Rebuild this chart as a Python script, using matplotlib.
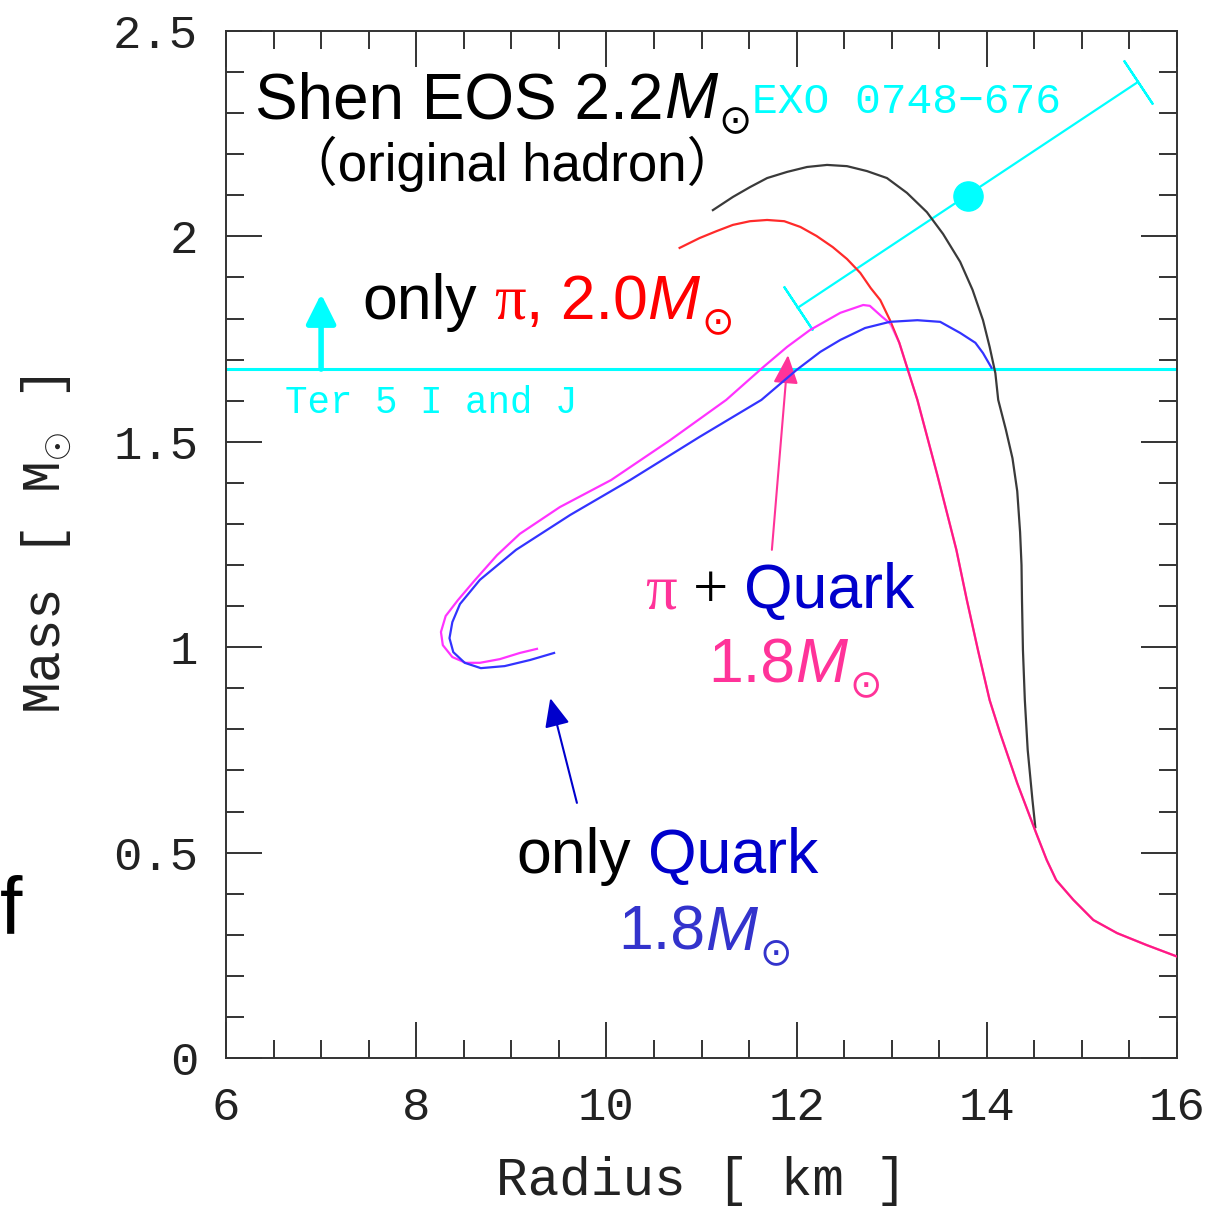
import matplotlib
matplotlib.use("Agg")
import matplotlib.pyplot as plt
import matplotlib.transforms as mtransforms
from matplotlib.ticker import MultipleLocator, FuncFormatter
import numpy as np

plt.rcParams['mathtext.fontset'] = 'custom'
plt.rcParams['mathtext.rm'] = 'Liberation Sans'
plt.rcParams['mathtext.it'] = 'Liberation Sans:italic'
plt.rcParams['mathtext.bf'] = 'Liberation Sans:bold'

# ---------------- data (Radius [km], Mass [Msun]) ----------------
shen_R = [11.12, 11.33, 11.51, 11.69, 11.90, 12.11, 12.32, 12.53, 12.74, 12.95, 13.16, 13.37,
          13.54, 13.72, 13.85, 13.96, 14.03, 14.09, 14.12, 14.20, 14.27, 14.32, 14.35, 14.365,
          14.37, 14.38, 14.40, 14.43, 14.48, 14.51]
shen_M = [2.064, 2.096, 2.120, 2.142, 2.157, 2.169, 2.174, 2.171, 2.159, 2.142, 2.106, 2.059,
          2.006, 1.938, 1.870, 1.796, 1.731, 1.667, 1.602, 1.530, 1.460, 1.380, 1.280, 1.200,
          1.115, 0.993, 0.871, 0.750, 0.628, 0.562]

pion_R = [10.77, 10.98, 11.16, 11.33, 11.51, 11.69, 11.87, 12.04, 12.21, 12.38, 12.53, 12.67,
          12.78, 12.88, 12.98, 13.08, 13.17, 13.27, 13.48, 13.68, 13.79, 13.91, 14.03, 14.14,
          14.32, 14.52, 14.63, 14.73, 14.91, 15.12, 15.37, 15.68, 16.00]
pion_M = [1.972, 1.996, 2.013, 2.028, 2.037, 2.040, 2.037, 2.023, 2.001, 1.974, 1.945, 1.911,
          1.874, 1.845, 1.797, 1.741, 1.675, 1.602, 1.419, 1.237, 1.115, 0.990, 0.871, 0.791,
          0.669, 0.547, 0.482, 0.433, 0.385, 0.336, 0.304, 0.275, 0.247]

pq_R = [9.27, 9.09, 8.88, 8.67, 8.52, 8.38, 8.28, 8.26, 8.31, 8.44, 8.62, 8.85, 9.09, 9.51,
        10.05, 10.67, 11.26, 11.65, 11.90, 12.14, 12.46, 12.70, 12.77, 12.90, 12.98]
pq_M = [0.996, 0.986, 0.971, 0.962, 0.962, 0.976, 1.005, 1.037, 1.076, 1.115, 1.164, 1.224,
        1.276, 1.341, 1.407, 1.504, 1.602, 1.682, 1.731, 1.772, 1.814, 1.833, 1.831, 1.804, 1.789]

q_R = [9.45, 9.20, 8.93, 8.68, 8.51, 8.39, 8.35, 8.38, 8.46, 8.67, 9.05, 9.62, 10.25, 10.98,
       11.63, 12.00, 12.25, 12.46, 12.72, 12.98, 13.27, 13.51, 13.72, 13.88, 13.96, 14.05]
q_M = [0.986, 0.969, 0.954, 0.949, 0.962, 0.988, 1.022, 1.061, 1.105, 1.164, 1.237, 1.322,
       1.407, 1.512, 1.602, 1.675, 1.719, 1.748, 1.777, 1.792, 1.796, 1.792, 1.765, 1.741,
       1.716, 1.680]

exo_R = [13.80]
exo_M = [2.098]
exo_err_R = [12.01, 15.59]
exo_err_M = [1.826, 2.376]

ter5_M = 1.677
ter5_arrow_R = 7.0
ter5_arrow_top = 1.86

x_ticks = [6, 8, 10, 12, 14, 16]
y_ticks = [0, 0.5, 1, 1.5, 2, 2.5]

# ---------------- figure ----------------
fig = plt.figure(figsize=(12.29, 12.11), dpi=100)
ax = fig.add_axes([226/1229, 1 - 1058/1211, (1177-226)/1229, (1058-31)/1211])
ax.set_xlim(6, 16)
ax.set_ylim(0, 2.5)

CYAN = '#00ffff'
PINK = '#ff3399'
QBLUE = '#0000cc'
MONO = ['Liberation Mono', 'DejaVu Sans Mono']

# cyan constraints
ax.axhline(ter5_M, color=CYAN, lw=2.2, zorder=1)
ax.annotate('', xy=(ter5_arrow_R, ter5_arrow_top), xytext=(ter5_arrow_R, ter5_M),
            arrowprops=dict(arrowstyle='-|>,head_length=0.4,head_width=0.2', lw=4,
                            color=CYAN, mutation_scale=45, shrinkA=0, shrinkB=0))
ax.plot(exo_err_R, exo_err_M, color=CYAN, lw=1.6, zorder=2)

# curves
ax.plot(shen_R, shen_M, color='#3a3a3a', lw=1.6, zorder=3)
ax.plot(pion_R, pion_M, color='#ff2a2a', lw=1.6, zorder=3)
lowR = [r for r, m in zip(pion_R, pion_M) if m <= pq_M[-1]]
lowM = [m for m in pion_M if m <= pq_M[-1]]
ax.plot([pq_R[-1]] + lowR, [pq_M[-1]] + lowM, color='#ff00ff', lw=1.6, alpha=0.45, zorder=4)
ax.plot(pq_R, pq_M, color='#ff33ff', lw=1.6, zorder=4)
ax.plot(q_R, q_M, color='#3333ff', lw=1.6, zorder=4)

ax.plot(exo_R, exo_M, 'o', color=CYAN, ms=21, zorder=5)

# error bar caps perpendicular to the bar (computed in display space)
fig.canvas.draw()
p0 = ax.transData.transform((exo_err_R[0], exo_err_M[0]))
p1 = ax.transData.transform((exo_err_R[1], exo_err_M[1]))
ang = np.degrees(np.arctan2(p1[1] - p0[1], p1[0] - p0[0]))
ax.plot(exo_err_R, exo_err_M, linestyle='none', marker=(2, 2, ang), ms=38,
        mew=1.6, color=CYAN, zorder=2)

# arrows to curves
ax.annotate('', xy=(11.91, 1.711), xytext=(11.74, 1.237),
            arrowprops=dict(arrowstyle='-|>,head_length=0.8,head_width=0.35', lw=1.5,
                            color=PINK, mutation_scale=22, shrinkA=0, shrinkB=0))
ax.annotate('', xy=(9.41, 0.876), xytext=(9.69, 0.621),
            arrowprops=dict(arrowstyle='-|>,head_length=0.8,head_width=0.35', lw=1.5,
                            color=QBLUE, mutation_scale=22, shrinkA=0, shrinkB=0))

# ---------------- axes styling ----------------
for s in ax.spines.values():
    s.set_linewidth(1.4)
    s.set_color('#333333')
ax.set_xticks(x_ticks)
ax.set_yticks(y_ticks)
ax.xaxis.set_minor_locator(MultipleLocator(0.5))
ax.yaxis.set_minor_locator(MultipleLocator(0.1))
fmt = FuncFormatter(lambda v, p: ('%g' % v))
ax.xaxis.set_major_formatter(fmt)
ax.yaxis.set_major_formatter(fmt)
ax.tick_params(which='both', direction='in', top=True, right=True, color='#333333', width=1.4)
ax.tick_params(which='major', length=26, labelsize=34, pad=20)
ax.tick_params(which='minor', length=13)
for lab in ax.get_xticklabels() + ax.get_yticklabels():
    lab.set_family(MONO)
    lab.set_color('#222222')

ax.set_xlabel('Radius [ km ]', family=MONO, fontsize=38, color='#222222')
ax.set_ylabel('Mass [ M$_{\\odot}$ ]', family=MONO, fontsize=38, color='#222222')
ax.xaxis.set_label_coords(0.5, -0.095)
ax.yaxis.set_label_coords(-0.16, 0.5)

# ---------------- text ----------------
renderer = fig.canvas.get_renderer()


def text_width(s, fam, size):
    t = fig.text(0, 0, s, family=fam, fontsize=size)
    w = t.get_window_extent(renderer).width
    t.remove()
    return w


def rich(x, y, pieces, size):
    """pieces: (text, colour, family[, size, dy_px])"""
    off = 0.0
    for p in pieces:
        s, color, fam = p[:3]
        sz = p[3] if len(p) > 3 else size
        dy = p[4] if len(p) > 4 else 0
        sw = text_width('a a', fam, sz) - text_width('aa', fam, sz)
        lead = len(s) - len(s.lstrip(' '))
        trail = len(s) - len(s.rstrip(' '))
        core = s.strip(' ')
        off += lead * sw
        t = ax.text(x, y, core, color=color, fontsize=sz, family=fam, ha='left',
                    va='baseline',
                    transform=ax.transData + mtransforms.Affine2D().translate(off, dy),
                    zorder=6)
        off += t.get_window_extent(renderer).width + trail * sw


SANS = 'Liberation Sans'
SERIF = 'Liberation Serif'
SUN = 'DejaVu Sans'


def msun(color, size):
    return [('$M$', color, SANS, size), ('⊙', color, SUN, size * 0.62, -size * 0.32)]


rich(6.305, 2.288, [('Shen EOS 2.2', 'black', SANS)] + msun('black', 46), 46)
ax.text(9.007, 2.135, '（original hadron）', family=['Liberation Sans', 'Noto Sans CJK JP'],
        fontsize=38, ha='center', va='baseline', color='black')
rich(7.43, 1.80, [('only ', 'black', SANS), ('π', 'red', SERIF),
                  (', 2.0', 'red', SANS)] + msun('red', 45), 45)
rich(10.41, 1.095, [('π', PINK, SERIF), (' + ', 'black', SERIF), ('Quark', QBLUE, SANS)], 45)
rich(11.07, 0.915, [('1.8', PINK, SANS)] + msun(PINK, 45), 45)
rich(9.05, 0.450, [('only ', 'black', SANS), ('Quark', QBLUE, SANS)], 45)
rich(10.12, 0.263, [('1.8', '#3333cc', SANS)] + msun('#3333cc', 45), 45)

ax.text(11.53, 2.30, 'EXO 0748−676', family=MONO,
        fontsize=31, color=CYAN, ha='left', va='baseline')
ax.text(6.62, 1.570, 'Ter 5 I and J', family=MONO,
        fontsize=27, color=CYAN, ha='left', va='baseline')

fig.text(0.0, 1 - 933/1211, 'f', family=SANS, fontsize=58, ha='left', va='baseline')

fig.savefig('out.png', dpi=100)
